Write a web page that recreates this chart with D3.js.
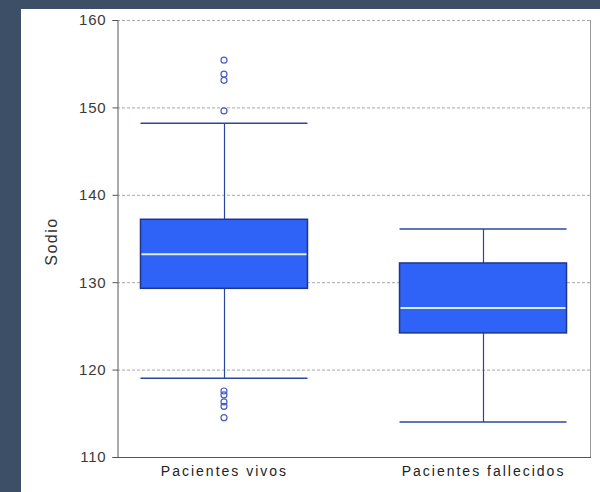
<!DOCTYPE html>
<html><head><meta charset="utf-8">
<script src="https://cdn.jsdelivr.net/npm/d3@7"></script>
<style>html,body{margin:0;padding:0;background:#3d4e67;}svg{display:block;}</style>
</head><body>
<svg id="chart" width="600" height="492"></svg>
<script>
const categories = ["Pacientes vivos", "Pacientes fallecidos"];
const q1 = [129.3, 124.2];
const median = [133.2, 127.05];
const q3 = [137.2, 132.2];
const whiskerLow = [119.0, 114.0];
const whiskerHigh = [148.2, 136.1];
const outliers = [[155.4, 153.8, 153.1, 149.6, 117.55, 117.1, 116.3, 115.8, 114.5], []];
const yTicks = [110, 120, 130, 140, 150, 160];
const yLabel = "Sodio";

(function () {
const svg = d3.select("#chart");
svg.append("rect").attr("x", 0).attr("y", 0).attr("width", 600).attr("height", 492).attr("fill", "#3d4e67");
svg.append("rect").attr("x", 21).attr("y", 9).attr("width", 579).attr("height", 483).attr("fill", "#ffffff");

const pLeft = 117, pRight = 590, pTop = 20, pBottom = 457;
const y = d3.scaleLinear().domain([110, 160]).range([pBottom, pTop]);
const x = d3.scalePoint().domain(categories).range([pLeft, pRight]).padding(0.413);
const boxW = 167;

// grid
svg.append("g").selectAll("line").data(yTicks.filter(t => t > 110)).join("line")
  .attr("x1", pLeft).attr("x2", pRight)
  .attr("y1", d => y(d) + 0.5).attr("y2", d => y(d) + 0.5)
  .attr("stroke", "#a8a8a8").attr("stroke-width", 1).attr("stroke-dasharray", "3,2");

// right border
svg.append("line").attr("x1", pRight + 0.5).attr("x2", pRight + 0.5).attr("y1", pTop).attr("y2", pBottom)
  .attr("stroke", "#999").attr("stroke-width", 1);

// y axis
const yAxis = d3.axisLeft(y).tickValues(yTicks).tickSize(5).tickPadding(6).tickFormat(d3.format("d"));
const gy = svg.append("g").attr("transform", `translate(${pLeft + 0.5},0)`).call(yAxis);
gy.select(".domain").attr("stroke", "#555");
gy.selectAll(".tick line").attr("stroke", "#555");
gy.selectAll("text").attr("font-family", "Arial, 'Liberation Sans', sans-serif").attr("font-size", 15)
  .attr("letter-spacing", "0.8px").attr("fill", "#3a3a3a");

// x axis
const xAxis = d3.axisBottom(x).tickSize(0).tickPadding(9);
const gx = svg.append("g").attr("transform", `translate(0,${pBottom + 0.5})`).call(xAxis);
gx.select(".domain").attr("stroke", "#555").attr("d", `M${pLeft},0H${pRight + 1}`);
gx.selectAll("text").attr("font-family", "Arial, 'Liberation Sans', sans-serif").attr("font-size", 14)
  .attr("letter-spacing", "2px").attr("fill", "#222");

// y label
svg.append("text").attr("transform", `translate(57,${(pTop + pBottom) / 2 + 3}) rotate(-90)`)
  .attr("text-anchor", "middle").attr("font-family", "Arial, 'Liberation Sans', sans-serif")
  .attr("font-size", 16).attr("letter-spacing", "1.5px").attr("fill", "#333").text(yLabel);

const data = categories.map((c, i) => ({c, q1: q1[i], med: median[i], q3: q3[i], lo: whiskerLow[i], hi: whiskerHigh[i], out: outliers[i]}));
const lineCol = "#29489a";
const g = svg.append("g").selectAll("g").data(data).join("g");

// whisker verticals
g.append("line").attr("x1", d => Math.round(x(d.c)) + 0.5).attr("x2", d => Math.round(x(d.c)) + 0.5)
  .attr("y1", d => y(d.hi)).attr("y2", d => y(d.lo)).attr("stroke", lineCol).attr("stroke-width", 1.2);
// caps
g.selectAll(".cap").data(d => [d.lo, d.hi].map(v => ({c: d.c, v}))).join("line").attr("class", "cap")
  .attr("x1", d => x(d.c) - boxW / 2).attr("x2", d => x(d.c) + boxW / 2)
  .attr("y1", d => y(d.v)).attr("y2", d => y(d.v)).attr("stroke", lineCol).attr("stroke-width", 1.5);
// box
g.append("rect").attr("x", d => x(d.c) - boxW / 2).attr("width", boxW)
  .attr("y", d => y(d.q3)).attr("height", d => y(d.q1) - y(d.q3))
  .attr("fill", "#2f62f7").attr("stroke", "#1e3590").attr("stroke-width", 1.5);
// median
g.append("line").attr("x1", d => x(d.c) - boxW / 2 + 1).attr("x2", d => x(d.c) + boxW / 2 - 1)
  .attr("y1", d => y(d.med)).attr("y2", d => y(d.med)).attr("stroke", "#d8f0e0").attr("stroke-width", 2);
// outliers
g.selectAll("circle").data(d => d.out.map(v => ({c: d.c, v}))).join("circle")
  .attr("cx", d => x(d.c)).attr("cy", d => y(d.v)).attr("r", 3)
  .attr("fill", "none").attr("stroke", "#4a5cc4").attr("stroke-width", 1.2);
})();
</script>
</body></html>
